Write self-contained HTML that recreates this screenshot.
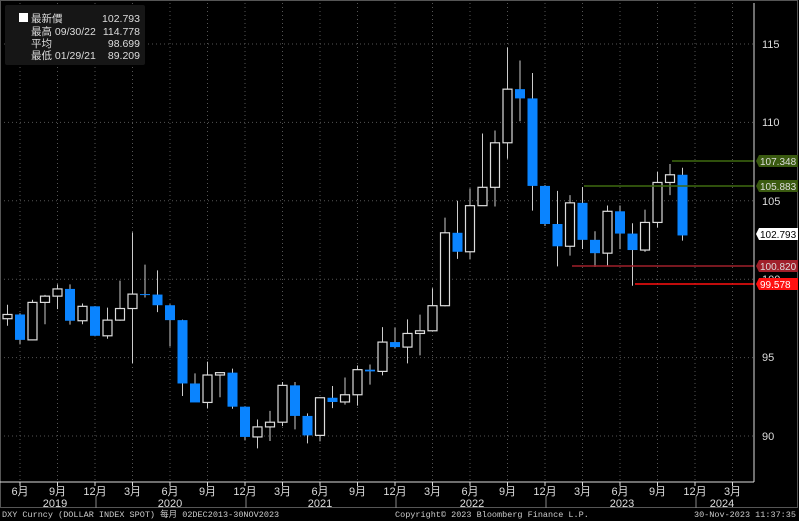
<!DOCTYPE html>
<html><head><meta charset="utf-8">
<style>
body{margin:0;background:#000;width:799px;height:521px;overflow:hidden}
svg{display:block;font-family:"Liberation Sans","Noto Sans CJK SC",sans-serif}
</style></head><body>
<svg id="s" width="799" height="521" viewBox="0 0 799 521" xmlns="http://www.w3.org/2000/svg">
<rect width="799" height="521" fill="#000"/>
<rect x="0.5" y="0.5" width="797" height="507" fill="none" stroke="#555"/>
<g id="grid"></g>
<g id="c"></g>
<g id="ov">
<line x1="672" y1="161" x2="754" y2="161" stroke="#3f6a10" stroke-width="1.5"/>
<line x1="584" y1="186" x2="754" y2="186" stroke="#3f6a10" stroke-width="1.5"/>
<line x1="572" y1="266" x2="754" y2="266" stroke="#a0202a" stroke-width="1.5"/>
<line x1="635" y1="284" x2="754" y2="284" stroke="#ff1010" stroke-width="1.5"/>
</g>
<line x1="754" y1="3" x2="754" y2="482" stroke="#ddd"/>
<line x1="0" y1="482" x2="754" y2="482" stroke="#ddd"/>
<g font-size="11" fill="#ddd">
<text x="762" y="48">115</text><text x="762" y="126">110</text><text x="762" y="205">105</text>
<text x="762" y="283">100</text><text x="762" y="361">95</text><text x="762" y="440">90</text>
</g>
<g font-size="10">
<path d="M756 161 l3 -6 h39 v12 h-39z" fill="#3a5a10"/><text x="760" y="165" fill="#ddd">107.348</text>
<path d="M756 186 l3 -6 h39 v12 h-39z" fill="#3a5a10"/><text x="760" y="190" fill="#ddd">105.883</text>
<path d="M756 234 l3 -6 h39 v12 h-39z" fill="#fff"/><text x="760" y="238" fill="#000">102.793</text>
<path d="M756 266 l3 -6 h39 v12 h-39z" fill="#a0202a"/><text x="760" y="270" fill="#ddd">100.820</text>
<path d="M756 284 l3 -6 h39 v12 h-39z" fill="#ff1010"/><text x="760" y="288" fill="#fff">99.578</text>
</g>
<g id="ax" font-size="11" fill="#ddd"></g>
<g font-family="Liberation Mono,'Noto Sans CJK SC',monospace" font-size="8.5" fill="#ccc">
<text x="2" y="517">DXY Curncy (DOLLAR INDEX SPOT)  每月 02DEC2013-30NOV2023</text>
<text x="395" y="517">Copyright© 2023 Bloomberg Finance L.P.</text>
<text x="796" y="517" text-anchor="end">30-Nov-2023 11:37:35</text>
</g>
<rect x="5" y="5" width="140" height="60" fill="#161616" rx="2"/>
<g font-size="10.5" fill="#ddd">
<rect x="19" y="13" width="9" height="9" fill="#fff"/>
<text x="31" y="22">最新價</text><text x="140" y="22" text-anchor="end">102.793</text>
<text x="31" y="35">最高 09/30/22</text><text x="140" y="35" text-anchor="end">114.778</text>
<text x="31" y="47">平均</text><text x="140" y="47" text-anchor="end">98.699</text>
<text x="31" y="59">最低 01/29/21</text><text x="140" y="59" text-anchor="end">89.209</text>
</g>
</svg>
<script>
const d=[[97.48,98.37,97.03,97.75],[97.75,97.83,95.84,96.13],[96.13,98.69,96.11,98.52],[98.52,99.0,97.13,98.92],[98.92,99.67,98.09,99.38],[99.38,99.67,97.1,97.35],[97.35,98.45,97.13,98.27],[98.27,98.28,96.36,96.39],
[96.39,98.19,96.2,97.39],[97.39,99.91,97.35,98.13],[98.13,102.99,94.65,99.05],[99.05,100.93,98.83,99.02],[99.02,100.56,97.9,98.34],[98.34,98.4,95.71,97.39],[97.39,97.42,92.55,93.35],[93.35,93.99,92.19,92.14],[92.14,94.74,91.75,93.89],[93.89,94.08,92.47,94.04],[94.04,94.3,91.74,91.87],[91.87,91.9,89.72,89.94],
[89.94,91.05,89.21,90.58],[90.58,91.6,89.68,90.88],[90.88,93.44,90.63,93.23],[93.23,93.44,90.42,91.28],[91.28,91.44,89.53,90.04],[90.04,92.41,89.66,92.44],[92.44,93.19,91.78,92.17],[92.17,93.73,92.0,92.63],[92.63,94.5,91.94,94.23],[94.23,94.56,93.28,94.12],[94.12,96.94,93.87,95.99],[95.99,96.91,95.58,95.67],
[95.67,97.44,94.63,96.54],[96.54,97.74,95.14,96.71],[96.71,99.42,96.68,98.31],[98.31,103.93,98.27,102.96],[102.96,105.0,101.3,101.75],[101.75,105.79,101.29,104.69],[104.69,109.29,104.69,105.86],[105.86,109.48,104.64,108.7],[108.7,114.78,107.68,112.12],[112.12,113.95,110.07,111.53],[111.53,113.15,104.37,105.95],[105.95,106.0,103.39,103.52],
[103.52,105.63,100.82,102.1],[102.1,105.36,101.5,104.87],[104.87,105.88,101.93,102.51],[102.51,103.06,100.79,101.66],[101.66,104.7,100.8,104.33],[104.33,104.7,101.92,102.91],[102.91,103.57,99.58,101.86],[101.86,104.44,101.74,103.62],[103.62,106.84,103.3,106.17],[106.17,107.35,105.36,106.66],[106.66,107.11,102.46,102.79]];
const Y=v=>436-(v-90)*15.68, X=i=>7.5+12.5*i;
const NS="http://www.w3.org/2000/svg";
function el(p,t,a){const e=document.createElementNS(NS,t);for(const k in a)e.setAttribute(k,a[k]);p.appendChild(e);return e;}
const g=document.getElementById('grid'),c=document.getElementById('c'),ax=document.getElementById('ax');
[115,110,105,100,95,90].forEach(v=>el(g,'line',{x1:0,x2:754,y1:Y(v),y2:Y(v),stroke:'#555','stroke-dasharray':'1 3'}));
const ml=['6月','9月','12月','3月'];
for(let k=0;k<20;k++){const i=1+3*k;const x=X(i);if(x>754)break;
 el(g,'line',{x1:x,x2:x,y1:3,y2:482,stroke:'#555','stroke-dasharray':'1 3'});
 el(ax,'line',{x1:x,x2:x,y1:482,y2:486,stroke:'#ddd'});
 const t=el(ax,'text',{x:x,y:495,'text-anchor':'middle'});t.textContent=ml[k%4];}
[96,246,396,546,696].forEach(x=>el(ax,'line',{x1:x,x2:x,y1:496,y2:508,stroke:'#888'}));
[[55,'2019'],[170,'2020'],[320,'2021'],[472,'2022'],[622,'2023'],[722,'2024']].forEach(([x,s])=>{const t=el(ax,'text',{x:x,y:507,'text-anchor':'middle'});t.textContent=s;});
d.forEach((o,i)=>{const x=X(i),[O,H,L,C]=o,up=C>=O;
 el(c,'line',{x1:x,x2:x,y1:Y(H),y2:Y(L),stroke:'#ccc'});
 const t=Y(Math.max(O,C)),b=Y(Math.min(O,C));
 if(up) el(c,'rect',{x:x-4.5,y:t,width:9,height:Math.max(1,b-t),fill:'#000',stroke:'#ddd','stroke-width':1.2});
 else el(c,'rect',{x:x-5,y:t,width:10,height:Math.max(1,b-t),fill:'#0a84ff'});});
</script>
</body></html>
